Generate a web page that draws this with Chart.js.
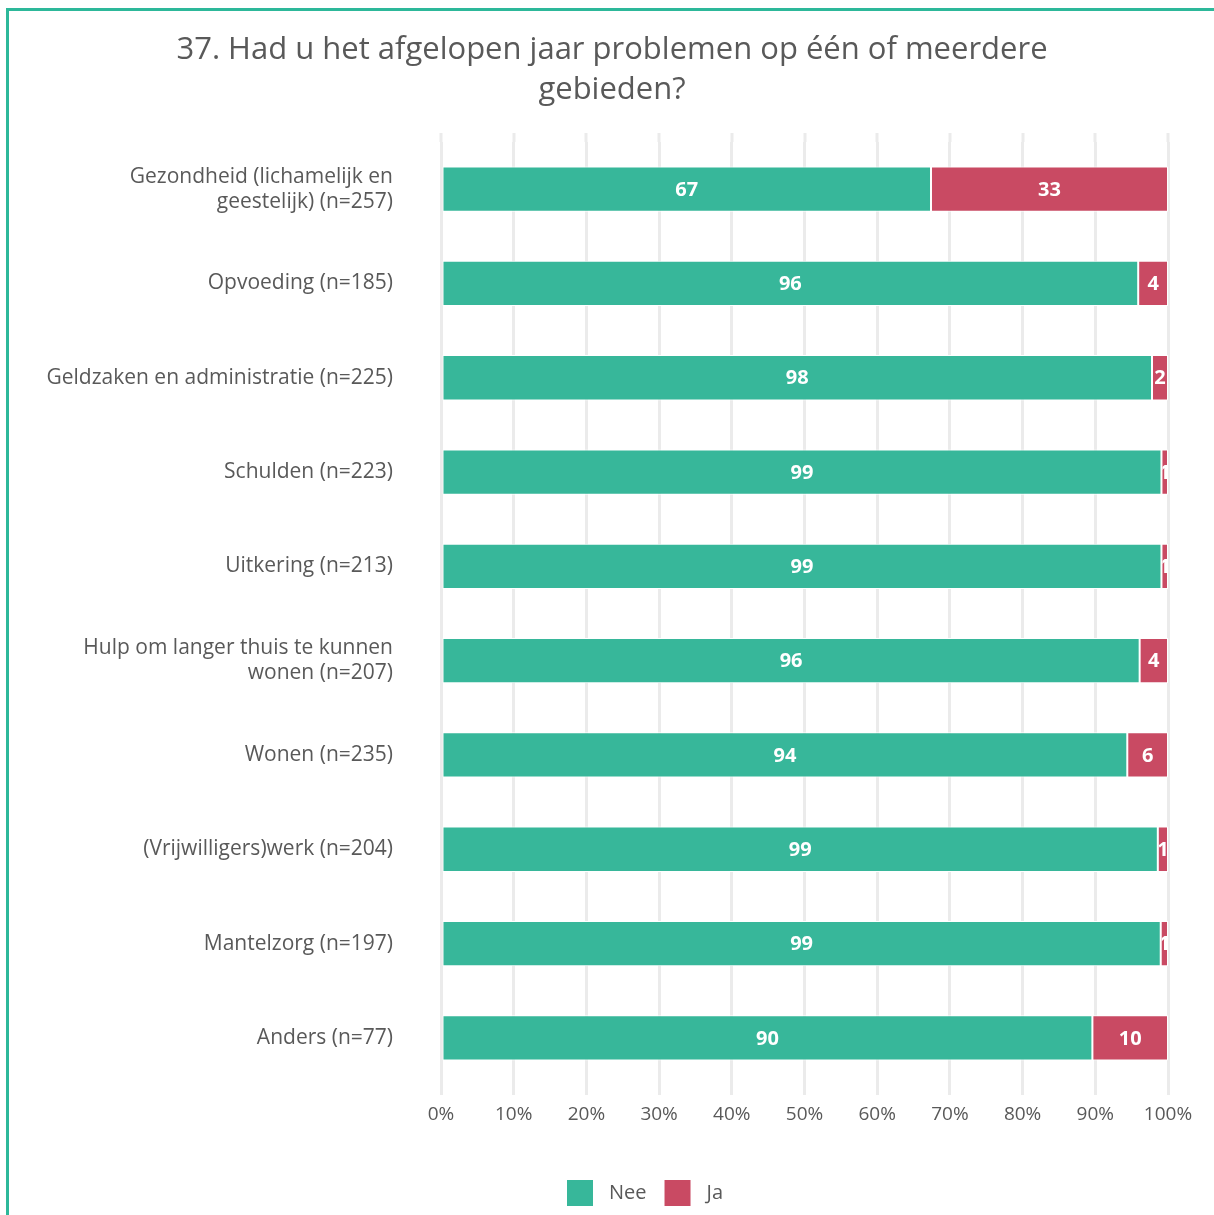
<!DOCTYPE html>
<html>
<head>
<meta charset="utf-8">
<script src="https://cdn.jsdelivr.net/npm/chart.js@4.4.1/dist/chart.umd.min.js"></script>
<style>
  html, body { margin: 0; padding: 0; background: #fff; }
  #wrap { position: relative; width: 1214px; height: 1215px; }
</style>
</head>
<body>
<div id="wrap"><canvas id="chart" width="1214" height="1215"></canvas></div>
<script>
const titleLines = ['37. Had u het afgelopen jaar problemen op één of meerdere', 'gebieden?'];
const categories = [
  ['Gezondheid (lichamelijk en', 'geestelijk) (n=257)'],
  'Opvoeding (n=185)',
  'Geldzaken en administratie (n=225)',
  'Schulden (n=223)',
  'Uitkering (n=213)',
  ['Hulp om langer thuis te kunnen', 'wonen (n=207)'],
  'Wonen (n=235)',
  '(Vrijwilligers)werk (n=204)',
  'Mantelzorg (n=197)',
  'Anders (n=77)'
];
const nee = [67.4, 95.9, 97.8, 99.1, 99.1, 96.1, 94.4, 98.6, 99.0, 89.6];
const ja = [32.6, 4.1, 2.2, 0.9, 0.9, 3.9, 5.6, 1.4, 1.0, 10.4];
const xTicks = ['0%', '10%', '20%', '30%', '40%', '50%', '60%', '70%', '80%', '90%', '100%'];

const FONT = '"Open Sans", Lato, sans-serif';
const GREY = '#595959';
const GRID = '#ebebeb';

// teal frame, title and the grid stubs above the plot
const frame = {
  id: 'frame',
  beforeDraw(chart) {
    const ctx = chart.ctx;
    ctx.save();
    ctx.fillStyle = '#2db89a';
    ctx.fillRect(6, 8, 1208, 3);
    ctx.fillRect(6, 8, 3, 1207);
    ctx.font = '31px ' + FONT;
    ctx.fillStyle = GREY;
    ctx.textAlign = 'center';
    ctx.textBaseline = 'middle';
    ctx.fillText(titleLines[0], 612, 50);
    ctx.fillText(titleLines[1], 612, 90);
    ctx.restore();
  },
  beforeDatasetsDraw(chart) {
    const ctx = chart.ctx;
    const x = chart.scales.x;
    const top = chart.chartArea.top;
    ctx.save();
    ctx.strokeStyle = GRID;
    ctx.lineWidth = 3;
    x.ticks.forEach(t => {
      const px = Math.round(x.getPixelForValue(t.value));
      ctx.beginPath();
      ctx.moveTo(px, top - 9);
      ctx.lineTo(px, top);
      ctx.stroke();
    });
    ctx.restore();
  }
};

const barLabels = {
  id: 'barLabels',
  afterDatasetsDraw(chart) {
    const ctx = chart.ctx;
    ctx.save();
    ctx.font = 'bold 20px ' + FONT;
    ctx.fillStyle = '#ffffff';
    ctx.textAlign = 'center';
    ctx.textBaseline = 'middle';
    chart.data.datasets.forEach((ds, di) => {
      const meta = chart.getDatasetMeta(di);
      meta.data.forEach((bar, i) => {
        const v = Math.round(ds.data[i]);
        const left = Math.min(bar.x, bar.base);
        const right = Math.max(bar.x, bar.base);
        ctx.save();
        ctx.beginPath();
        ctx.rect(left + 1, bar.y - 30, right - left - 2, 60);
        ctx.clip();
        ctx.fillText(String(v), (left + right) / 2, bar.y + 1);
        ctx.restore();
      });
    });
    ctx.restore();
  }
};

const legendDraw = {
  id: 'legendDraw',
  afterDraw(chart) {
    const ctx = chart.ctx;
    ctx.save();
    ctx.font = '20px ' + FONT;
    ctx.textBaseline = 'middle';
    const y = 1193;
    let x = 567;
    chart.data.datasets.forEach(ds => {
      ctx.fillStyle = ds.backgroundColor;
      ctx.fillRect(x, y - 13, 26, 26);
      x += 26 + 16;
      ctx.fillStyle = GREY;
      ctx.fillText(ds.label, x, y);
      x += ctx.measureText(ds.label).width + 18;
    });
    ctx.restore();
  }
};

new Chart(document.getElementById('chart'), {
  type: 'bar',
  data: {
    labels: categories,
    datasets: [
      { label: 'Nee', data: nee, backgroundColor: '#37b79a', borderColor: '#ffffff', borderWidth: 1, borderSkipped: false },
      { label: 'Ja', data: ja, backgroundColor: '#c94a63', borderColor: '#ffffff', borderWidth: 1, borderSkipped: false }
    ]
  },
  options: {
    indexAxis: 'y',
    responsive: false,
    animation: false,
    layout: { padding: { left: 10, right: 46, top: 142, bottom: 0 } },
    datasets: { bar: { categoryPercentage: 1, barPercentage: 0.48 } },
    scales: {
      x: {
        stacked: true,
        min: 0,
        max: 100,
        grid: { color: GRID, lineWidth: 3, drawTicks: true, tickLength: 10 },
        border: { display: false },
        ticks: {
          stepSize: 10,
          padding: 8,
          color: GREY,
          font: { family: FONT, size: 19 },
          callback: (v, i) => xTicks[i]
        },
        afterFit(scale) { scale.height = 130; }
      },
      y: {
        stacked: true,
        grid: { display: false },
        border: { display: false },
        ticks: {
          padding: 40,
          color: GREY,
          font: { family: FONT, size: 21, lineHeight: 1.2 }
        },
        afterFit(scale) { scale.width = 431; }
      }
    },
    plugins: {
      title: { display: false },
      legend: { display: false },
      tooltip: { enabled: false }
    }
  },
  plugins: [frame, barLabels, legendDraw]
});
</script>
</body>
</html>
